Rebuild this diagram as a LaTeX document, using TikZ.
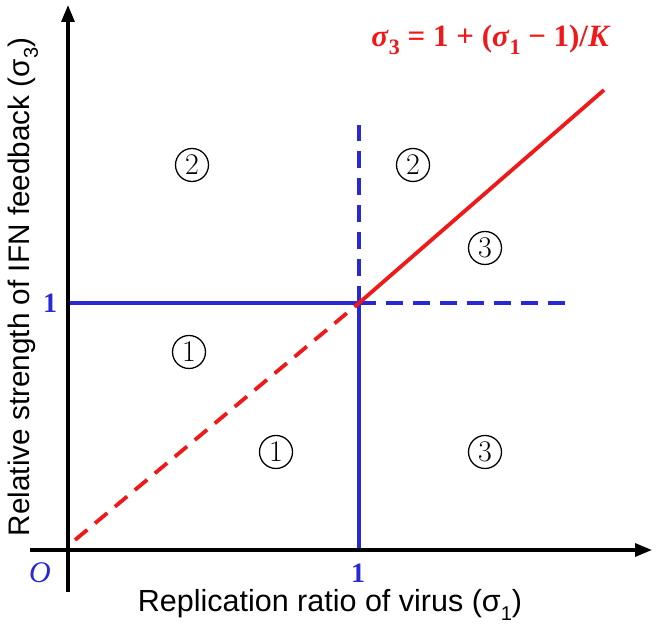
\documentclass[tikz,border=0pt]{standalone}
\usepackage{fontspec}
\setsansfont{Liberation Sans}
\newfontfamily\timesfont{Liberation Serif}
\usetikzlibrary{arrows.meta}
\definecolor{lineblue}{RGB}{40,40,215}
\definecolor{linered}{RGB}{240,25,25}
\newcommand{\lowidx}[2][20]{\raisebox{-0.28em}{\fontsize{#1}{#1}\selectfont #2}}

\begin{document}
\begin{tikzpicture}[x=1pt,y=1pt,
  axis/.style={-{Triangle[length=17pt,width=13pt]},draw=black,line width=3.2pt},
  bluesolid/.style={draw=lineblue,line width=3.8pt},
  bluedash/.style={draw=lineblue,line width=3.8pt,dash pattern=on 17pt off 10pt},
  redsolid/.style={draw=linered,line width=3.8pt},
  reddash/.style={draw=linered,line width=3.8pt,dash pattern=on 16pt off 10pt},
  region/.style={circle,draw=black,line width=1.3pt,minimum size=33pt,inner sep=0pt,font=\fontsize{30}{30}\selectfont},
  ticklab/.style={text=lineblue,font=\timesfont\bfseries\fontsize{28}{28}\selectfont},
  axislab/.style={font=\sffamily\fontsize{30.5}{34}\selectfont}]
  \useasboundingbox (0,0) rectangle (658,628);
  \coordinate (xstart) at (30,78);
  \coordinate (xend) at (652,78);
  \coordinate (ystart) at (68,36);
  \coordinate (yend) at (68,623);
  \coordinate (xone) at (359,78);
  \coordinate (yone) at (68,325);
  \coordinate (crit) at (359,325);
  \coordinate (vtop) at (359,503);
  \coordinate (hright) at (570,325);
  \coordinate (redlow) at (75,88);
  \coordinate (redhigh) at (604,538);
  \draw[bluesolid] (xone) -- (crit);
  \draw[bluesolid] (yone) -- (crit);
  \draw[bluedash] (crit) -- (vtop);
  \draw[bluedash] (crit) -- (hright);
  \draw[reddash] (redlow) -- (crit);
  \draw[redsolid] (crit) -- (redhigh);
  \draw[axis] (xstart) -- (xend);
  \draw[axis] (ystart) -- (yend);
  \node[region] (upleft) at (192,463) {2};
  \node[region] (upmid) at (413,463) {2};
  \node[region] (upright) at (485,380) {3};
  \node[region] (lowleft) at (189,276) {1};
  \node[region] (lowmid) at (276,176) {1};
  \node[region] (lowright) at (485,176) {3};
  \node[text=lineblue,font=\timesfont\itshape\fontsize{30}{30}\selectfont] (orig) at (40,55) {O};
  \node[ticklab] (xtick) at (358,55) {1};
  \node[ticklab] (ytick) at (50,325) {1};
  \node[text=linered,font=\timesfont\bfseries\fontsize{31}{34}\selectfont] (law) at (491,588)
    {\textit{σ}\lowidx[22]{3} = 1 + (\textit{σ}\lowidx[22]{1} − 1)/\textit{K}};
  \node[axislab] (xlabel) at (330,23) {Replication ratio of virus (σ\lowidx{1})};
  \node[axislab,font=\sffamily\fontsize{29.7}{34}\selectfont,rotate=90] (ylabel) at (23,341) {Relative strength of IFN feedback (σ\lowidx{3})};
\end{tikzpicture}
\end{document}
